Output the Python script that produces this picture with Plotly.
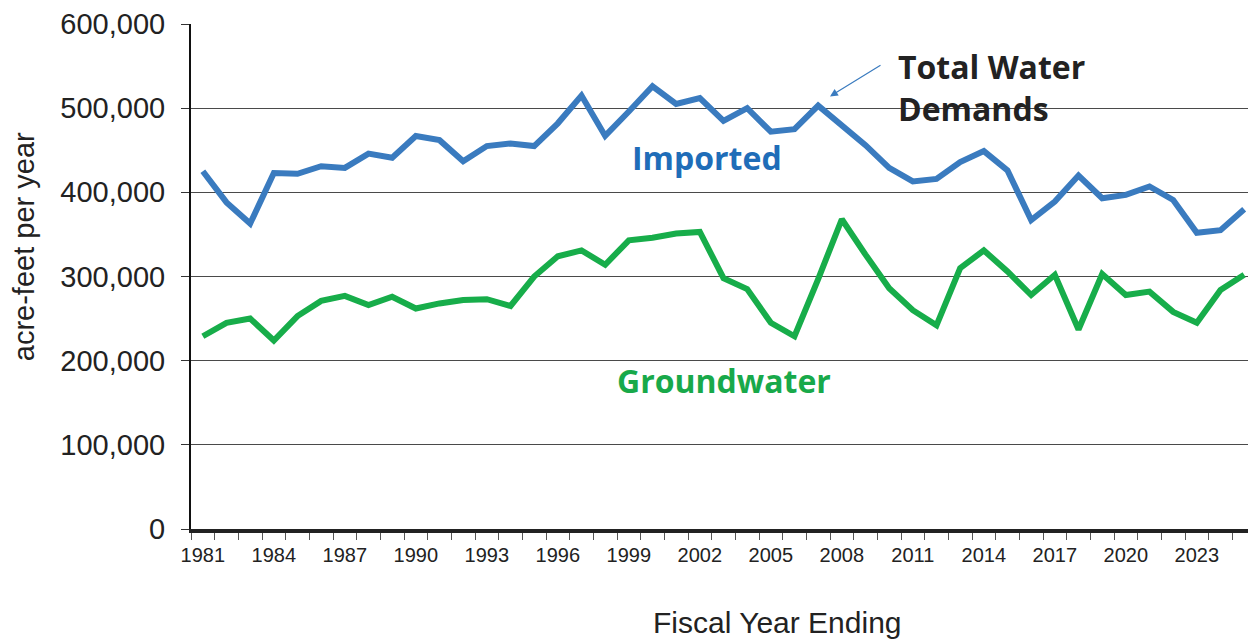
import plotly.graph_objects as go

years = list(range(1981, 2026))
imported = [425000, 388000, 363000, 423000, 422000, 431000, 429000, 446000, 441000, 467000,
            462000, 437000, 455000, 458000, 455000, 482000, 515000, 467000, 496000, 526000,
            505000, 512000, 485000, 500000, 472000, 475000, 503000, 480000, 456000, 429000,
            413000, 416000, 436000, 449000, 426000, 367000, 389000, 420000, 393000, 397000,
            407000, 391000, 352000, 355000, 380000]
groundwater = [229000, 245000, 250000, 224000, 253000, 271000, 277000, 266000, 276000, 262000,
               268000, 272000, 273000, 265000, 300000, 324000, 331000, 314000, 343000, 346000,
               351000, 353000, 298000, 285000, 245000, 229000, 297000, 368000, 326000, 286000,
               260000, 242000, 310000, 331000, 306000, 278000, 302000, 237000, 303000, 278000,
               282000, 258000, 245000, 284000, 302000]
label_years = list(range(1981, 2024, 3))
y_ticks = [0, 100000, 200000, 300000, 400000, 500000, 600000]

BLUE = "#3a7bbf"
GREEN = "#17ad4a"
AX_FONT = "Liberation Sans, Arial, sans-serif"
ANN_FONT = "Open Sans, sans-serif"

fig = go.Figure()
fig.add_trace(go.Scatter(x=years, y=groundwater, mode="lines", name="Groundwater",
                         line=dict(color=GREEN, width=6)))
fig.add_trace(go.Scatter(x=years, y=imported, mode="lines", name="Imported",
                         line=dict(color=BLUE, width=6)))

fig.update_layout(
    width=1248, height=631,
    margin=dict(l=183, r=0, t=16, b=110),
    paper_bgcolor="white", plot_bgcolor="white",
    showlegend=False,
    font=dict(family=AX_FONT, color="#222222"),
)
fig.update_xaxes(
    range=[1980.5, 2025.5],
    tickvals=label_years,
    ticktext=[str(y) for y in label_years],
    ticks="", showgrid=False, zeroline=False,
    showline=True, linecolor="#222222", linewidth=4,
    tickfont=dict(size=20, color="#222222"),
    ticklabelstandoff=5,
    minor=dict(ticks="outside", tick0=1980.5, dtick=1, ticklen=7,
               tickcolor="#555555", tickwidth=1, showgrid=False),
)
fig.update_yaxes(
    range=[0, 600000],
    tickvals=y_ticks,
    tickformat=",",
    ticks="outside", ticklen=8, tickcolor="#333333", tickwidth=1,
    showgrid=True, gridcolor="#4a4a4a", gridwidth=1,
    zeroline=False,
    showline=True, linecolor="#111111", linewidth=2,
    tickfont=dict(size=29, color="#222222"),
    ticklabelstandoff=10,
)

annotations = [
    dict(text="Imported", x=2002.3, y=441000, xref="x", yref="y", showarrow=False,
         font=dict(family=ANN_FONT, size=32, color="#1f6db8", weight="bold")),
    dict(text="Groundwater", x=2003.0, y=176000, xref="x", yref="y", showarrow=False,
         font=dict(family=ANN_FONT, size=32, color="#18a94a", weight="bold")),
    dict(text="Total Water<br>Demands", x=2010.3, y=524000, xref="x", yref="y",
         xanchor="left", yanchor="middle", align="left", showarrow=False,
         font=dict(family=ANN_FONT, size=32, color="#222222", weight="bold")),
    dict(text="", x=2007.5, y=514000, xref="x", yref="y", showarrow=True,
         ax=52, ay=-32, arrowhead=2, arrowsize=1.3, arrowwidth=1.2, arrowcolor=BLUE),
    dict(text="Fiscal Year Ending", x=0.551, y=-0.186, xref="paper", yref="paper",
         xanchor="center", yanchor="middle",
         showarrow=False, font=dict(size=30, color="#222222")),
    dict(text="acre-feet per year", x=-0.1568, y=0.558, xref="paper", yref="paper",
         xanchor="center", yanchor="middle", borderpad=0,
         showarrow=False, textangle=-90, font=dict(size=29, color="#222222")),
]
fig.update_layout(annotations=annotations)

fig.write_html("out.html")
